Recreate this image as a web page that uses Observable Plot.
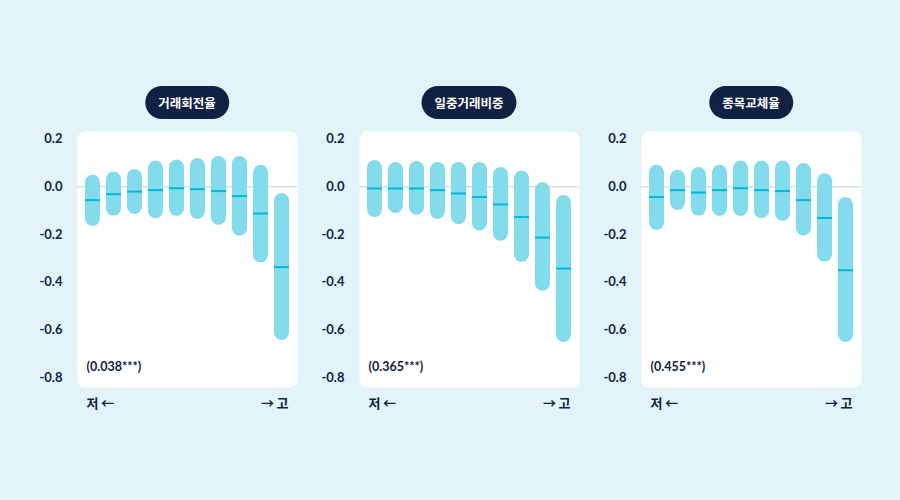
<!DOCTYPE html>
<html>
<head>
<meta charset="utf-8">
<script src="https://cdn.jsdelivr.net/npm/d3@7"></script>
<script src="https://cdn.jsdelivr.net/npm/@observablehq/plot@0.6"></script>
<style>
  html, body { margin: 0; padding: 0; background: #e2f4fa; }
  #wrap { position: relative; width: 900px; height: 500px; background: #e2f4fa; overflow: hidden;
          font-family: Lato, "Noto Sans CJK KR", sans-serif; }
  .pill { position: absolute; top: 86px; height: 33px; line-height: 33px; padding: 0 13px;
          transform: translateX(-50%); background: #0f2244; color: #fff; border-radius: 17px;
          font-size: 12.5px; font-weight: 700; white-space: nowrap; font-family: "Noto Sans CJK KR", sans-serif; }
  #chart { position: absolute; left: 0; top: 0; }
</style>
</head>
<body>
<div id="wrap"><div id="chart"></div></div>
<script>
// ---- data ----
const panels = ["거래회전율", "일중거래비중", "종목교체율"];
const annotations = ["(0.038***)", "(0.365***)", "(0.455***)"];
const groups = [1, 2, 3, 4, 5, 6, 7, 8, 9, 10];
const yTicks = [0.2, 0, -0.2, -0.4, -0.6, -0.8];
const lowLabel = "저\u2009←";
const highLabel = "→\u2009고";

// 거래회전율
const high1 = [0.048, 0.062, 0.073, 0.108, 0.112, 0.119, 0.127, 0.127, 0.090, -0.028];
const low1  = [-0.166, -0.123, -0.116, -0.134, -0.124, -0.137, -0.161, -0.207, -0.319, -0.645];
const med1  = [-0.056, -0.031, -0.020, -0.014, -0.006, -0.010, -0.018, -0.039, -0.112, -0.337];
// 일중거래비중
const high2 = [0.110, 0.102, 0.106, 0.102, 0.102, 0.102, 0.081, 0.066, 0.017, -0.036];
const low2  = [-0.129, -0.112, -0.119, -0.137, -0.159, -0.185, -0.228, -0.317, -0.438, -0.653];
const med2  = [-0.007, -0.007, -0.007, -0.014, -0.028, -0.043, -0.074, -0.127, -0.213, -0.343];
// 종목교체율
const high3 = [0.090, 0.069, 0.081, 0.090, 0.108, 0.108, 0.108, 0.098, 0.055, -0.045];
const low3  = [-0.183, -0.099, -0.123, -0.124, -0.124, -0.134, -0.145, -0.206, -0.316, -0.653];
const med3  = [-0.043, -0.014, -0.024, -0.014, -0.006, -0.014, -0.018, -0.056, -0.131, -0.350];

const highs = [high1, high2, high3];
const lows = [low1, low2, low3];
const meds = [med1, med2, med3];

const rows = [];
panels.forEach((p, pi) => groups.forEach((g, gi) => {
  rows.push({panel: p, group: g, hi: highs[pi][gi], lo: lows[pi][gi], med: meds[pi][gi]});
}));
const notes = panels.map((p, i) => ({panel: p, text: annotations[i]}));

const navy = "#0f2244";
const font = 'Lato, "Noto Sans CJK KR", sans-serif';
const cjk = '"Noto Sans CJK KR", sans-serif';

const chart = Plot.plot({
  width: 900,
  height: 500,
  marginLeft: 77,
  marginRight: 39,
  marginTop: 131,
  marginBottom: 113,
  style: {background: "transparent", fontFamily: font},
  fx: {domain: panels, axis: null, paddingInner: 0.22, paddingOuter: 0, label: null},
  x: {domain: groups, axis: null, paddingInner: 0.287, paddingOuter: 0.372},
  y: {domain: [-0.842, 0.232], axis: null},
  marks: [
    Plot.frame({fill: "white", stroke: null, rx: 8, ry: 8}),
    Plot.ruleY([0], {stroke: "#c9ccd2", strokeWidth: 1}),
    Plot.barY(rows, {fx: "panel", x: "group", y1: "lo", y2: "hi", fill: "#82dcec", rx: 7.5, ry: 7.5}),
    Plot.tickY(rows, {fx: "panel", x: "group", y: "med", stroke: "#00b8d9", strokeWidth: 2}),
    Plot.axisY({ticks: yTicks, tickFormat: d => d.toFixed(1), tickSize: 0, tickPadding: 15,
                facetAnchor: null, fontSize: 13, fontWeight: 700, fill: navy, label: null}),
    Plot.text(notes, {fx: "panel", text: "text", frameAnchor: "bottom-left", dx: 9, dy: -17,
                      textAnchor: "start", fontSize: 12.5, fontWeight: 700, fill: navy}),
    Plot.text(notes, {fx: "panel", text: () => lowLabel, frameAnchor: "bottom-left", dx: 9, dy: 20,
                      textAnchor: "start", fontSize: 13, fontWeight: 700, fill: navy, fontFamily: cjk}),
    Plot.text(notes, {fx: "panel", text: () => highLabel, frameAnchor: "bottom-right", dx: -9, dy: 20,
                      textAnchor: "end", fontSize: 13, fontWeight: 700, fill: navy, fontFamily: cjk})
  ]
});
document.getElementById("chart").appendChild(chart);

// title pills above each panel, centered on the facet band
const fxScale = chart.scale("fx");
const wrap = document.getElementById("wrap");
panels.forEach(p => {
  const d = document.createElement("div");
  d.className = "pill";
  d.textContent = p;
  d.style.left = (fxScale.apply(p) + fxScale.bandwidth / 2) + "px";
  wrap.appendChild(d);
});
</script>
</body>
</html>
